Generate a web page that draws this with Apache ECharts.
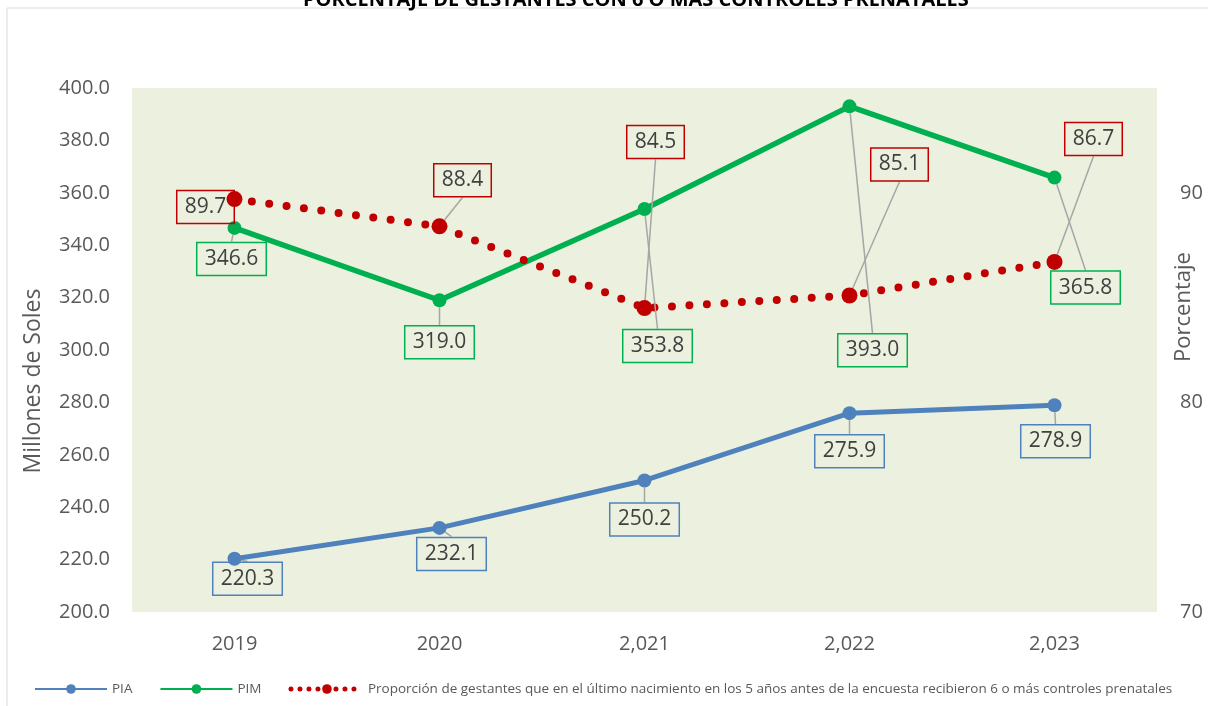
<!DOCTYPE html>
<html>
<head>
<meta charset="utf-8">
<script src="https://cdn.jsdelivr.net/npm/echarts@6/dist/echarts.min.js"></script>
<style>
html, body { margin: 0; padding: 0; background: #fff; }
#chart { width: 1208px; height: 706px; }
</style>
</head>
<body>
<div id="chart"></div>
<script>
const years = ['2019', '2020', '2,021', '2,022', '2,023']
const pia = [220.3, 232.1, 250.2, 275.9, 278.9]
const pim = [346.6, 319.0, 353.8, 393.0, 365.8]
const proporcion = [89.7, 88.4, 84.5, 85.1, 86.7]

// desplazamiento de etiquetas (centro de la caja respecto al punto)
const piaShift = [[13, 20], [12, 26], [0, 39], [0, 38], [1, 36]]
const pimShift = [[-3, 31], [0, 42], [13, 137], [23, 244], [31, 110]]
const propShift = [[-29, 8], [23, -46], [11, -166], [50, -131], [39, -123]]

const propName = 'Proporción de gestantes que en el último nacimiento en los 5 años antes de la encuesta recibieron 6 o más controles prenatales'
const font = 'Open Sans, DejaVu Sans, sans-serif'

function boxLabel(color) {
    return {
        show: true,
        position: 'inside',
        formatter: p => p.value.toFixed(1),
        fontSize: 21,
        fontFamily: font,
        color: '#404040',
        borderColor: color,
        borderWidth: 1.5,
        padding: [7, 8, 5, 8]
    }
}

function shiftLayout(shift) {
    return function (params) {
        const s = shift[params.dataIndex]
        return { dx: s[0], dy: s[1] }
    }
}

const labelLine = { show: true, lineStyle: { color: '#A6A6A6', width: 1.5 } }

var myChart = echarts.init(document.getElementById('chart'))
const option = {
    animation: false,
    title: {
        text: 'PORCENTAJE DE GESTANTES CON 6 O MÁS CONTROLES PRENATALES',
        left: 298,
        top: -15,
        textStyle: { fontSize: 20, fontWeight: 'bold', color: '#000', fontFamily: font }
    },
    graphic: [{
        type: 'rect',
        shape: { x: 7, y: 8, width: 1220, height: 720 },
        style: { fill: 'none', stroke: '#D9D9D9', lineWidth: 1 },
        silent: true
    }],
    grid: {
        left: 132,
        right: 51,
        top: 88,
        bottom: 94,
        outerBoundsMode: 'none',
        containLabel: false,
        show: true,
        backgroundColor: '#EBF1DE',
        borderWidth: 0
    },
    legend: {
        bottom: 10,
        left: 34,
        width: 1200,
        padding: 0,
        itemWidth: 72,
        itemHeight: 12,
        itemGap: 27,
        textStyle: { fontSize: 13.5, color: '#595959', fontFamily: font },
        data: [
            'PIA',
            'PIM',
            { name: propName, lineStyle: { type: [0, 9], width: 5, cap: 'round' } }
        ]
    },
    xAxis: {
        type: 'category',
        data: years,
        axisLine: { show: false },
        axisTick: { show: false },
        axisLabel: { fontSize: 20, color: '#595959', margin: 22, fontFamily: font }
    },
    yAxis: [
        {
            type: 'value',
            min: 200,
            max: 400,
            interval: 20,
            name: 'Millones de Soles',
            nameLocation: 'middle',
            nameGap: 87,
            nameMoveOverlap: false,
            nameTextStyle: { fontSize: 23, color: '#595959', fontFamily: font, padding: [0, 62, 0, 0] },
            axisLine: { show: false },
            axisTick: { show: false },
            splitLine: { show: false },
            axisLabel: { fontSize: 20, color: '#595959', margin: 22, fontFamily: font, formatter: v => v.toFixed(1) }
        },
        {
            type: 'value',
            min: 70,
            max: 95,
            interval: 10,
            name: 'Porcentaje',
            nameLocation: 'middle',
            nameGap: 16,
            nameMoveOverlap: false,
            nameTextStyle: { fontSize: 22, color: '#595959', fontFamily: font, padding: [0, 0, 0, 86] },
            axisLine: { show: false },
            axisTick: { show: false },
            splitLine: { show: false },
            axisLabel: { fontSize: 20, color: '#595959', margin: 23, fontFamily: font, showMaxLabel: false }
        }
    ],
    series: [
        {
            name: 'PIA',
            type: 'line',
            data: pia,
            symbol: 'circle',
            symbolSize: 14,
            itemStyle: { color: '#4F81BD' },
            lineStyle: { color: '#4F81BD', width: 5 },
            label: boxLabel('#4F81BD'),
            labelLine: labelLine,
            labelLayout: shiftLayout(piaShift)
        },
        {
            name: 'PIM',
            type: 'line',
            data: pim,
            symbol: 'circle',
            symbolSize: 14,
            itemStyle: { color: '#00B050' },
            lineStyle: { color: '#00B050', width: 5.5 },
            label: boxLabel('#00B050'),
            labelLine: labelLine,
            labelLayout: shiftLayout(pimShift)
        },
        {
            name: propName,
            type: 'line',
            yAxisIndex: 1,
            data: proporcion,
            symbol: 'circle',
            symbolSize: 16,
            z: 3,
            itemStyle: { color: '#C00000' },
            lineStyle: { color: '#C00000', width: 8, type: [0, 17.5], cap: 'round' },
            label: boxLabel('#C00000'),
            labelLine: labelLine,
            labelLayout: shiftLayout(propShift)
        }
    ]
}
myChart.setOption(option)
</script>
</body>
</html>
